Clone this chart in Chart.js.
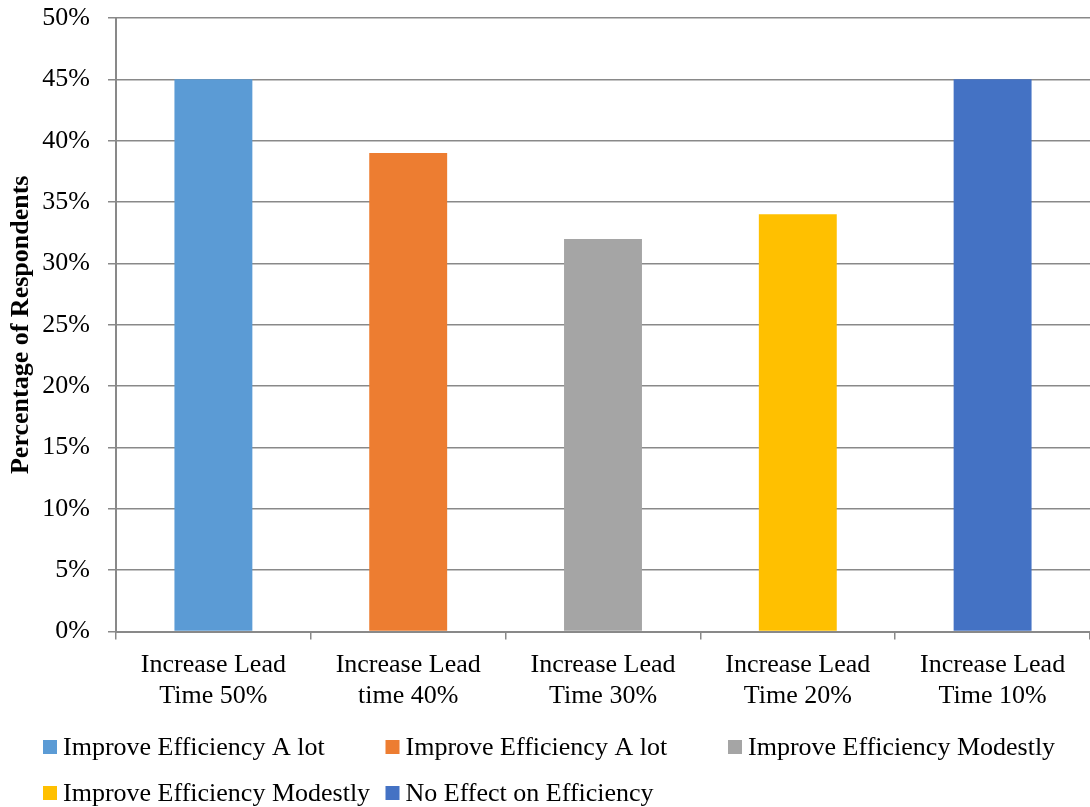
<!DOCTYPE html>
<html>
<head>
<meta charset="utf-8">
<script src="https://cdn.jsdelivr.net/npm/chart.js@4.4.1/dist/chart.umd.min.js"></script>
<style>
  html, body { margin: 0; padding: 0; background: #fff; }
  #wrap { width: 1090px; height: 807px; }
</style>
</head>
<body>
<div id="wrap"><canvas id="chart" width="1090" height="807"></canvas></div>
<script>
const categories = [
    ['Increase Lead', 'Time 50%'],
    ['Increase Lead', 'time 40%'],
    ['Increase Lead', 'Time 30%'],
    ['Increase Lead', 'Time 20%'],
    ['Increase Lead', 'Time 10%']
];
const values = [45, 39, 32, 34, 45];
const legendLabels = [
    'Improve Efficiency A lot',
    'Improve Efficiency A lot',
    'Improve Efficiency Modestly',
    'Improve Efficiency Modestly',
    'No Effect on Efficiency'
];
const barColors = ['#5B9BD5', '#ED7D31', '#A5A5A5', '#FFC000', '#4472C4'];
const yTicks = [0, 5, 10, 15, 20, 25, 30, 35, 40, 45, 50];

const serif = '"Liberation Serif", "Times New Roman", serif';
const axisGrey = '#898989';

// legend laid out in fixed columns, like the original
const gridLegend = {
    id: 'gridLegend',
    afterDraw(chart) {
        const ctx = chart.ctx;
        ctx.save();
        ctx.font = '26px ' + serif;
        ctx.textBaseline = 'middle';
        legendLabels.forEach((label, i) => {
            const x = 43 + (i % 3) * 342.5;
            const y = 747 + Math.floor(i / 3) * 46;
            ctx.fillStyle = barColors[i];
            ctx.fillRect(x, y - 7, 14, 14);
            ctx.fillStyle = '#000';
            ctx.fillText(label, x + 20, y + 1);
        });
        ctx.restore();
    }
};

new Chart(document.getElementById('chart'), {
    type: 'bar',
    data: {
        labels: categories,
        datasets: [{
            label: 'Percentage of Respondents',
            data: values,
            backgroundColor: barColors,
            barPercentage: 0.4,
            categoryPercentage: 1.0
        }]
    },
    options: {
        responsive: false,
        animation: false,
        // plot runs a few px past the right edge in the original
        layout: { padding: { top: 0, right: -5, bottom: 85, left: 0 } },
        plugins: {
            legend: { display: false },
            tooltip: { enabled: false }
        },
        scales: {
            x: {
                afterFit(scale) {
                    scale.paddingLeft = 0;
                    scale.paddingRight = 0;
                },
                grid: {
                    display: true,
                    drawOnChartArea: false,
                    offset: true,
                    tickLength: 8,
                    color: axisGrey,
                    lineWidth: 1.5
                },
                border: { color: axisGrey, width: 2 },
                ticks: {
                    color: '#000',
                    padding: 10,
                    maxRotation: 0,
                    font: { family: serif, size: 26 }
                }
            },
            y: {
                min: 0,
                max: 50,
                afterBuildTicks(scale) {
                    scale.ticks = yTicks.map(v => ({ value: v }));
                },
                afterFit(scale) {
                    scale.width = 116;
                    scale.paddingTop = 18;
                    scale.paddingBottom = 0;
                },
                grid: {
                    color: axisGrey,
                    lineWidth: 1.5,
                    tickLength: 8
                },
                border: { color: axisGrey, width: 2 },
                ticks: {
                    color: '#000',
                    padding: 18,
                    font: { family: serif, size: 26 },
                    callback: v => v + '%'
                },
                title: {
                    display: true,
                    text: 'Percentage of Respondents',
                    color: '#000',
                    padding: { top: 6, bottom: 6 },
                    font: { family: serif, size: 26, weight: 'bold' }
                }
            }
        }
    },
    plugins: [gridLegend]
});
</script>
</body>
</html>
